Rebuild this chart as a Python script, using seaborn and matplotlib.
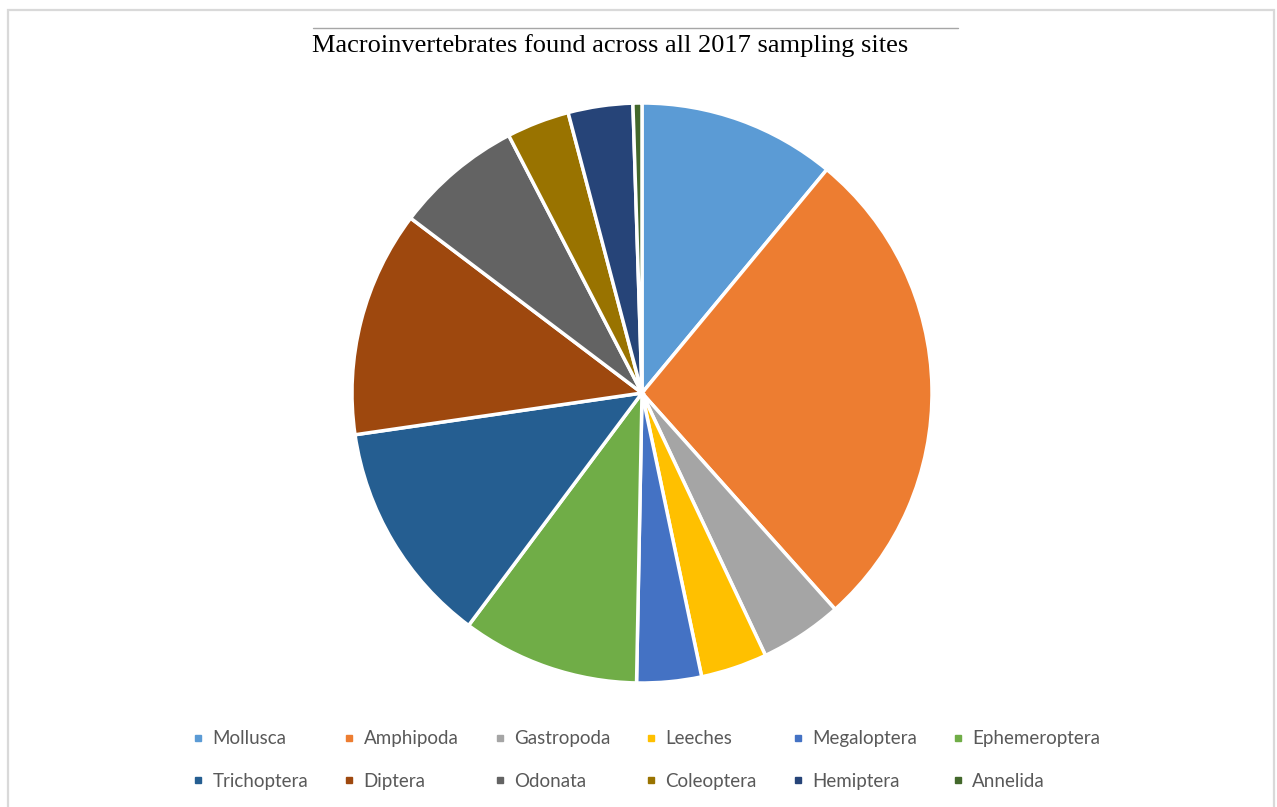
import matplotlib
matplotlib.use("Agg")
import matplotlib.pyplot as plt
from matplotlib.lines import Line2D
from matplotlib.patches import Rectangle
import seaborn as sns

# Share of macroinvertebrates by group (percent of total)
groups = ["Mollusca", "Amphipoda", "Gastropoda", "Leeches", "Megaloptera", "Ephemeroptera",
          "Trichoptera", "Diptera", "Odonata", "Coleoptera", "Hemiptera", "Annelida"]
shares = [11.0, 27.4, 4.6, 3.7, 3.6, 9.9, 12.5, 12.6, 7.1, 3.5, 3.6, 0.5]
colors = ["#5B9BD5", "#ED7D31", "#A5A5A5", "#FFC000", "#4472C4", "#70AD47",
          "#255E91", "#9E480E", "#636363", "#997300", "#264478", "#43682B"]
title = "Macroinvertebrates found across all 2017 sampling sites"

sns.set_theme(style="white")
palette = sns.color_palette(colors)

W, H = 1277, 807
fig = plt.figure(figsize=(W / 100, H / 100), dpi=100)

# chart frame
fig.patches.append(Rectangle((8 / W, -0.05), 1266 / W, 1.05 - 10 / H,
                             transform=fig.transFigure, fill=False,
                             edgecolor="#D9D9D9", linewidth=1.6))
# rule above the title
fig.add_artist(Line2D([313 / W, 958 / W], [1 - 28 / H, 1 - 28 / H],
                      transform=fig.transFigure, color="#A6A6A6", linewidth=1))

cx, cy, r = 642, 393, 290
ax = fig.add_axes([(cx - r) / W, 1 - (cy + r) / H, 2 * r / W, 2 * r / H])
ax.pie(shares, colors=palette, startangle=90, counterclock=False, radius=1,
       wedgeprops=dict(edgecolor="white", linewidth=2.5))
ax.set_xlim(-1, 1)
ax.set_ylim(-1, 1)
ax.set_aspect("equal")
ax.axis("off")

fig.text(610 / W, 1 - 46 / H, title, ha="center", va="center",
         fontsize=19, family="Liberation Serif", color="black")

# legend laid out row by row: matplotlib fills columns first, so interleave
ncol = 6
handles = [Line2D([0], [0], marker="s", linestyle="none", markersize=5,
                  markerfacecolor=c, markeredgecolor=c) for c in palette]
order = [row * ncol + col for col in range(ncol) for row in range(2)]
leg = fig.legend([handles[i] for i in order], [groups[i] for i in order],
                 ncol=ncol, loc="center",
                 bbox_to_anchor=(647 / W, 1 - 760 / H),
                 frameon=False, prop=dict(family="Lato", size=13.5),
                 handlelength=0.5, handletextpad=0.5, columnspacing=1.95,
                 labelspacing=1.35)
for t in leg.get_texts():
    t.set_color("#595959")

fig.savefig("out.png", dpi=100, facecolor="white")
